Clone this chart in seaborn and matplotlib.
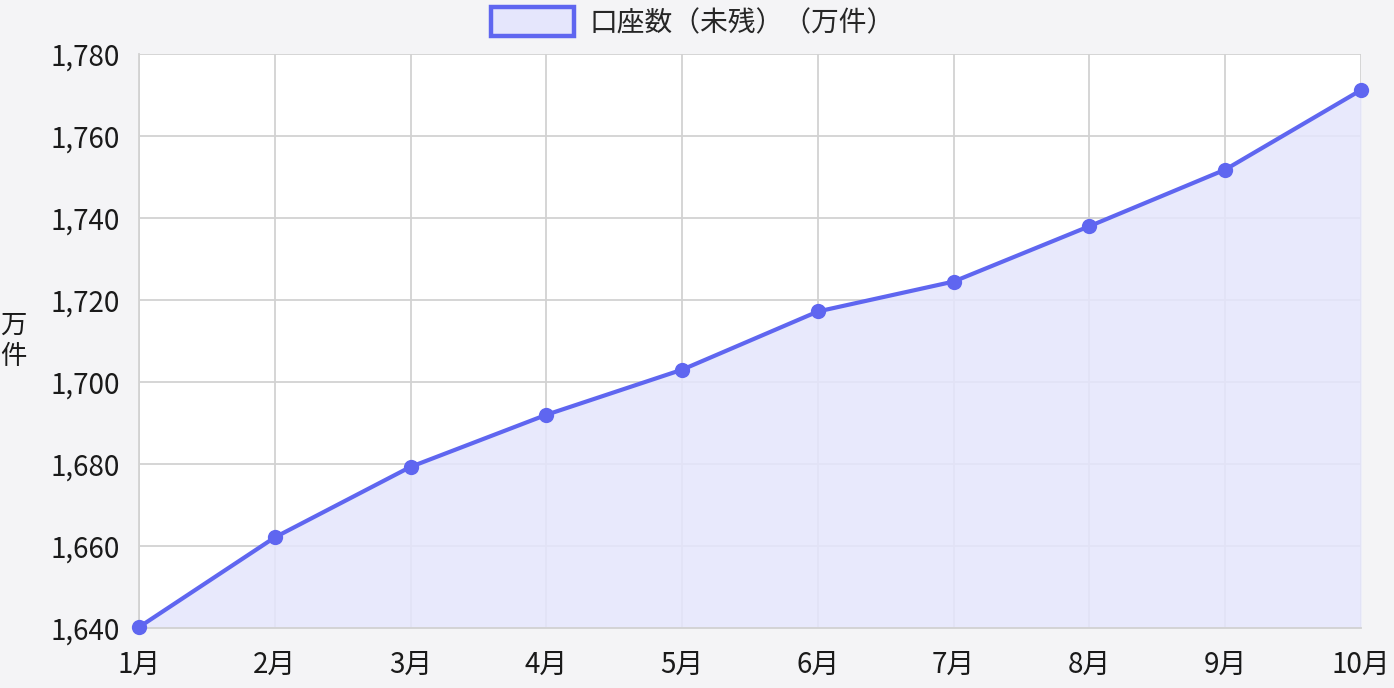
import pandas as pd
import seaborn as sns
import matplotlib.pyplot as plt
from matplotlib.patches import Patch
from matplotlib.ticker import FuncFormatter

months = ["1月", "2月", "3月", "4月", "5月", "6月", "7月", "8月", "9月", "10月"]
accounts = [1640.2, 1662.1, 1679.3, 1692.0, 1703.0, 1717.2, 1724.5, 1738.0, 1751.8, 1771.2]
series_name = "口座数（未残）（万件）"
y_unit = "万\n件"

line_color = "#5f66f0"
fill_color = "#e5e6fc"
bg_color = "#f4f4f6"

sns.set_theme(style="whitegrid")
plt.rcParams["font.family"] = ["Noto Sans CJK JP", "DejaVu Sans"]

data = pd.DataFrame({"month": months, "accounts": accounts})

fig = plt.figure(figsize=(13.94, 6.88), dpi=100, facecolor=bg_color)
ax = fig.add_axes([139 / 1394, 1 - 628 / 688, (1361 - 139) / 1394, (628 - 54) / 688])
ax.set_facecolor("white")

ax.fill_between(data["month"], 1640, data["accounts"], color=fill_color, alpha=0.85,
                linewidth=0, zorder=2)
sns.lineplot(data=data, x="month", y="accounts", ax=ax, color=line_color, linewidth=3.0,
             marker="o", markersize=11, markeredgewidth=0, zorder=3, clip_on=False)

ax.set_xlim(0, len(months) - 1)
ax.set_ylim(1640, 1780)
ax.set_yticks(range(1640, 1781, 20))
ax.yaxis.set_major_formatter(FuncFormatter(lambda v, p: f"{int(v):,}"))

ax.grid(True, color="#d2d2d2", linewidth=1.3, zorder=1)
ax.set_axisbelow(True)
for side in ["top", "right"]:
    ax.spines[side].set_visible(False)
for side in ["left", "bottom"]:
    ax.spines[side].set_color("#d2d2d2")
    ax.spines[side].set_linewidth(1.3)

ax.tick_params(axis="both", labelsize=20, colors="#1a1a1a", length=0)
ax.tick_params(axis="y", pad=14)
ax.tick_params(axis="x", pad=16)
ax.set_xlabel("")
ax.set_ylabel(y_unit, rotation=0, fontsize=19, color="#1a1a1a", va="center", ha="center",
              linespacing=1.2)
ax.yaxis.set_label_coords(-0.103, 0.5)

handle = Patch(facecolor=fill_color, edgecolor=line_color, linewidth=3.2)
fig.legend([handle], [series_name], loc="upper center", bbox_to_anchor=(0.497, 0.996),
           borderaxespad=0, borderpad=0.15, frameon=False, fontsize=20,
           handlelength=3.0, handleheight=1.25, handletextpad=0.55)

fig.savefig("out.png", dpi=100, facecolor=bg_color)
